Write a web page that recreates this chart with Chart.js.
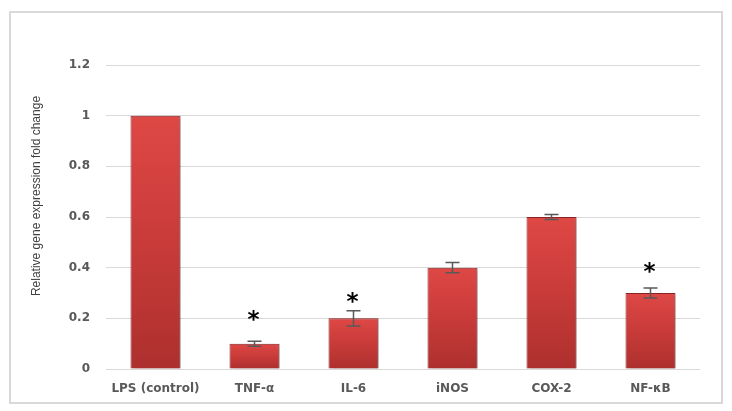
<!DOCTYPE html>
<html>
<head>
<meta charset="utf-8">
<script src="https://cdn.jsdelivr.net/npm/chart.js@4"></script>
<style>
  html, body { margin: 0; padding: 0; background: #fff; }
  #wrap { width: 732px; height: 411px; position: relative; }
</style>
</head>
<body>
<div id="wrap"><canvas id="myChart" width="732" height="411"></canvas></div>
<script>
const categories = ["LPS (control)", "TNF-α", "IL-6", "iNOS", "COX-2", "NF-κB"];
const foldChange = [1, 0.1, 0.2, 0.4, 0.6, 0.3];
const errors = [0, 0.01, 0.03, 0.02, 0.01, 0.02];
// height where the significance star sits (null = none)
const starAt = [null, 0.213, 0.284, null, null, 0.40];
const yTicks = [0, 0.2, 0.4, 0.6, 0.8, 1, 1.2];
const yTitle = "Relative gene expression fold change";

const labelFont = { family: "'DejaVu Sans', sans-serif", size: 12, weight: "bold" };

const extras = {
  id: "extras",
  beforeDraw(chart) {
    const ctx = chart.ctx;
    ctx.save();
    ctx.strokeStyle = "#d9d9d9";
    ctx.lineWidth = 2;
    ctx.strokeRect(10, 12, 712, 391);
    // axis title
    ctx.translate(37, 196);
    ctx.rotate(-Math.PI / 2);
    ctx.fillStyle = "#404040";
    ctx.font = "12px 'Liberation Sans', sans-serif";
    ctx.textAlign = "center";
    ctx.textBaseline = "middle";
    ctx.fillText(yTitle, 0, 0);
    ctx.restore();
  },
  beforeDatasetDraw(chart) {
    const ctx = chart.ctx;
    ctx.save();
    ctx.shadowColor = "rgba(0,0,0,0.35)";
    ctx.shadowBlur = 3;
    ctx.shadowOffsetX = 2;
    ctx.shadowOffsetY = 1;
  },
  afterDatasetDraw(chart) {
    chart.ctx.restore();
  },
  afterDatasetsDraw(chart) {
    const ctx = chart.ctx;
    const y = chart.scales.y;
    const bars = chart.getDatasetMeta(0).data;
    ctx.save();
    bars.forEach((bar, i) => {
      const e = errors[i];
      if (e > 0) {
        const top = y.getPixelForValue(foldChange[i] + e);
        const bot = y.getPixelForValue(foldChange[i] - e);
        ctx.strokeStyle = "#595959";
        ctx.lineWidth = 1.5;
        ctx.beginPath();
        ctx.moveTo(bar.x, top); ctx.lineTo(bar.x, bot);
        ctx.moveTo(bar.x - 7, top); ctx.lineTo(bar.x + 7, top);
        ctx.moveTo(bar.x - 7, bot); ctx.lineTo(bar.x + 7, bot);
        ctx.stroke();
      }
      if (starAt[i] !== null) {
        ctx.fillStyle = "#000";
        ctx.font = "bold 23px 'DejaVu Sans', sans-serif";
        ctx.textAlign = "center";
        ctx.textBaseline = "alphabetic";
        const m = ctx.measureText("*");
        const cy = y.getPixelForValue(starAt[i]);
        ctx.fillText("*", bar.x - 1, cy + (m.actualBoundingBoxAscent - m.actualBoundingBoxDescent) / 2);
      }
    });
    ctx.restore();
  }
};

function barFill(context) {
  const chart = context.chart;
  const y = chart.scales.y;
  if (!chart.chartArea || !y || context.dataIndex === undefined) return "#c83c3a";
  const top = y.getPixelForValue(foldChange[context.dataIndex]);
  const bot = y.getPixelForValue(0);
  if (!isFinite(top) || !isFinite(bot)) return "#c83c3a";
  const g = chart.ctx.createLinearGradient(0, top, 0, bot);
  g.addColorStop(0, "#de4845");
  g.addColorStop(0.5, "#c83b39");
  g.addColorStop(1, "#ad302e");
  return g;
}

new Chart(document.getElementById("myChart"), {
  type: "bar",
  data: {
    labels: categories,
    datasets: [{
      data: foldChange,
      backgroundColor: barFill,
      borderColor: "#8f2523",
      borderWidth: 1,
      barPercentage: 0.505,
      categoryPercentage: 1
    }]
  },
  options: {
    responsive: false,
    animation: false,
    layout: { padding: { top: 65, right: 32, bottom: 0, left: 0 } },
    plugins: { legend: { display: false }, tooltip: { enabled: false } },
    scales: {
      x: {
        grid: { display: false },
        border: { display: false },
        ticks: { color: "#595959", font: labelFont, padding: 5, maxRotation: 0 },
        afterFit(s) { s.height = 42; }
      },
      y: {
        min: 0,
        max: 1.2,
        afterBuildTicks(s) { s.ticks = yTicks.map(v => ({ value: v })); },
        grid: { color: "#d9d9d9", lineWidth: 1, drawTicks: false },
        border: { display: false },
        ticks: { color: "#595959", font: labelFont, padding: 16, callback: v => String(v) },
        afterFit(s) { s.width = 106; }
      }
    }
  },
  plugins: [extras]
});
</script>
</body>
</html>
